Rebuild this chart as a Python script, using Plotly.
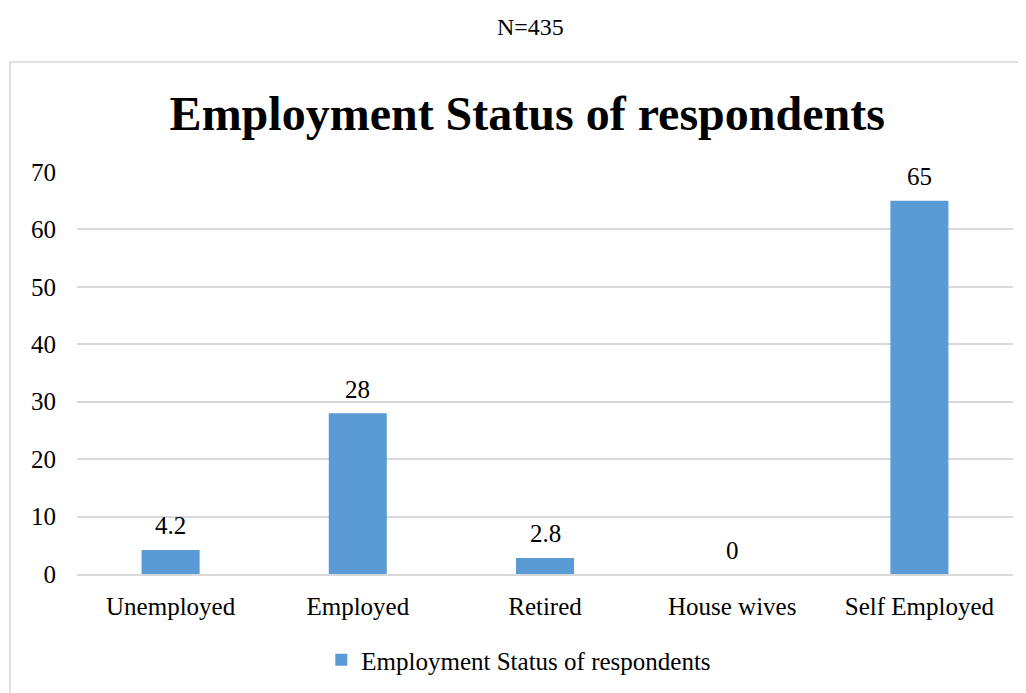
import plotly.graph_objects as go

categories = ["Unemployed", "Employed", "Retired", "House wives", "Self Employed"]
values = [4.2, 28, 2.8, 0, 65]
value_labels = ["4.2", "28", "2.8", "0", "65"]
series_name = "Employment Status of respondents"
title_text = "Employment Status of respondents"
note_text = "N=435"
y_ticks = [0, 10, 20, 30, 40, 50, 60, 70]

FONT = "Times New Roman, Liberation Serif, serif"
BAR = "#5B9BD5"
GRID = "#D9D9D9"

fig = go.Figure()
fig.add_trace(go.Bar(
    x=categories, y=values, name=series_name,
    marker=dict(color=BAR, line=dict(width=0)),
    showlegend=True,
))

for c, v, t in zip(categories, values, value_labels):
    fig.add_annotation(x=c, y=v, text=t, showarrow=False, xref="x", yref="y",
                       yanchor="middle", yshift=24,
                       font=dict(family=FONT, size=25, color="#000000"))

fig.add_annotation(x=0.484, y=1.361, xref="paper", yref="paper", text=note_text,
                   showarrow=False, xanchor="center", yanchor="middle",
                   font=dict(family=FONT, size=24, color="#000000"))

# chart frame
fig.add_shape(type="rect", xref="paper", yref="paper",
              x0=-0.0716, y0=-0.35, x1=1.05, y1=1.2736,
              line=dict(color=GRID, width=1.5), fillcolor="rgba(0,0,0,0)", layer="below")

fig.update_layout(
    width=1026, height=693,
    margin=dict(l=69, r=21, t=164, b=127),
    paper_bgcolor="white", plot_bgcolor="white",
    bargap=0.69,
    font=dict(family=FONT),
    title=dict(text="<b>" + title_text + "</b>", xref="paper", x=0.481,
               yref="container", y=1 - 105 / 693, xanchor="center", yanchor="middle",
               font=dict(family=FONT, size=48, color="#000000")),
    legend=dict(orientation="h", xref="paper", x=0.472, xanchor="center",
                y=-0.214, yanchor="middle",
                font=dict(family=FONT, size=25, color="#000000"),
                itemwidth=30, bgcolor="rgba(0,0,0,0)"),
    xaxis=dict(showgrid=False, showline=True, linecolor=GRID, linewidth=1.5,
               ticks="", tickfont=dict(family=FONT, size=25, color="#000000"),
               ticklabelstandoff=9, fixedrange=True),
    yaxis=dict(range=[0, 70], tickvals=y_ticks, showgrid=True, gridcolor=GRID, gridwidth=1.5,
               zeroline=False, showline=False, ticks="",
               tickfont=dict(family=FONT, size=25, color="#000000"),
               ticklabelstandoff=20, fixedrange=True),
)

fig.write_html("out.html")
